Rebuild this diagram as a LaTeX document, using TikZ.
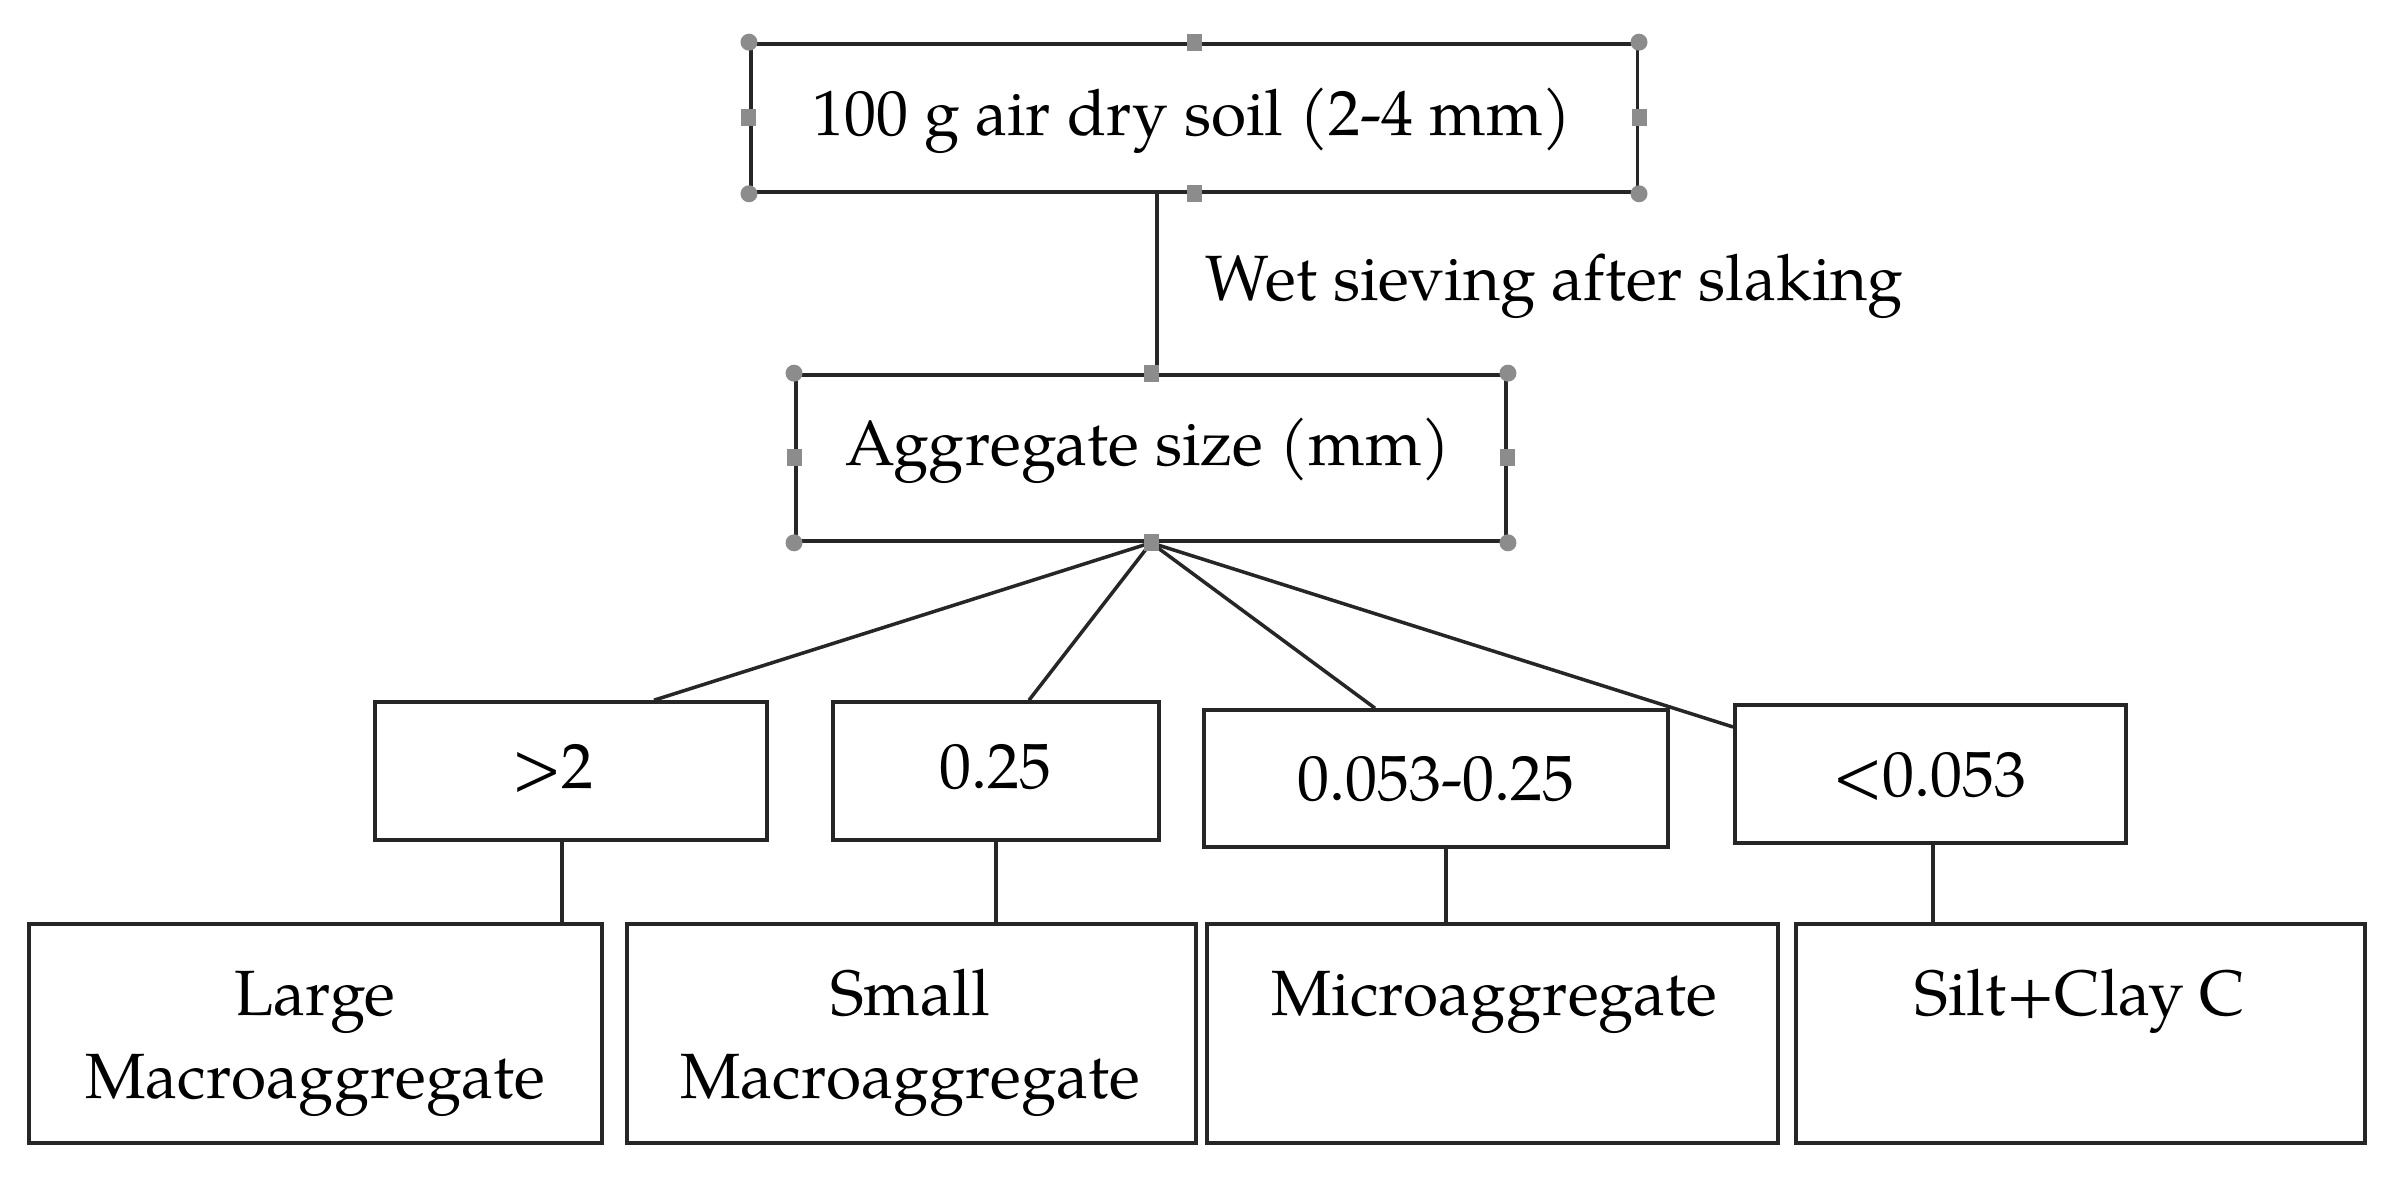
\documentclass[tikz,border=0pt]{standalone}
\usepackage{fontspec}
\setmainfont{TeX Gyre Pagella}
\begin{document}
\begin{tikzpicture}[x=0.01cm,y=-0.01cm,
  box/.style={draw=black!85, line width=1pt, inner sep=0pt, minimum height=1.38cm},
  txt/.style={anchor=base, inner sep=0pt, font=\fontsize{18.2}{21}\selectfont},
  conn/.style={draw=black!85, line width=1pt},
  hcirc/.style={fill=black!45, draw=none, circle, minimum size=0.17cm, inner sep=0pt},
  hsq/.style={fill=black!45, draw=none, rectangle, minimum width=0.15cm, minimum height=0.17cm, inner sep=0pt}]
\useasboundingbox (0,0) rectangle (2390,1186);
\fill[white] (0,0) rectangle (2390,1186);
% boxes
\node[box, minimum width=8.86cm, minimum height=1.48cm] (top) at (1194,118) {};
\node[box, minimum width=7.10cm, minimum height=1.66cm] (agg) at (1151,458) {};
\node[box, minimum width=3.92cm] (gt2) at (571,771) {};
\node[box, minimum width=3.26cm] (q25) at (996,771) {};
\node[box, minimum width=4.64cm, minimum height=1.37cm] (mid) at (1436,778.5) {};
\node[box, minimum width=3.91cm] (lt) at (1930.5,774) {};
\node[box, minimum width=5.73cm, minimum height=2.19cm] (large) at (315.5,1033.5) {};
\node[box, minimum width=5.69cm, minimum height=2.19cm] (small) at (911.5,1033.5) {};
\node[box, minimum width=5.71cm, minimum height=2.19cm] (micro) at (1492.5,1033.5) {};
\node[box, minimum width=5.69cm, minimum height=2.19cm] (silt) at (2080.5,1033.5) {};
% texts
\node[txt] (ttop) at (1192,136) {100 g air dry soil (2-4 mm)};
\node[txt, anchor=base west] (twet) at (1205,301) {Wet sieving after slaking};
\node[txt] (tagg) at (1148,466) {Aggregate size (mm)};
\node[txt] (tgt2) at (553,789) {>2};
\node[txt] (tq25) at (995,789) {0.25};
\node[txt] (tmid) at (1436,801) {0.053-0.25};
\node[txt] (tlt) at (1930,797) {<0.053};
\node[txt] (tlarge1) at (315,1016) {Large};
\node[txt] (tlarge2) at (315,1099) {Macroaggregate};
\node[txt] (tsmall1) at (910,1016) {Small};
\node[txt] (tsmall2) at (910,1099) {Macroaggregate};
\node[txt] (tmicro) at (1494,1016) {Microaggregate};
\node[txt] (tsilt) at (2080,1016) {Silt+Clay C};
% x positions of connectors
\coordinate (xa) at (1157,0);
\coordinate (x1) at (654,0);
\coordinate (x2) at (1029,0);
\coordinate (x3) at (1375,0);
\coordinate (y4) at (0,727);
\coordinate (v1) at (562,0);
\coordinate (v2) at (996,0);
\coordinate (v3) at (1446,0);
\coordinate (v4) at (1933,0);
% connectors
\draw[conn] (top.south -| xa) -- (agg.north -| xa);
\draw[conn] (agg.south) -- (gt2.north -| x1);
\draw[conn] (agg.south) -- (q25.north -| x2);
\draw[conn] (agg.south) -- (mid.north -| x3);
\draw[conn] (agg.south) -- (lt.west |- y4);
\draw[conn] (gt2.south -| v1) -- (large.north -| v1);
\draw[conn] (q25.south -| v2) -- (small.north -| v2);
\draw[conn] (mid.south -| v3) -- (micro.north -| v3);
\draw[conn] (lt.south -| v4) -- (silt.north -| v4);
% selection handles
\foreach \b in {top,agg}{
  \foreach \a in {north west,north east,south west,south east}
    \node[hcirc] at (\b.\a) {};
  \foreach \a in {north,south,east,west}
    \node[hsq] at (\b.\a) {};
}
\end{tikzpicture}
\end{document}
